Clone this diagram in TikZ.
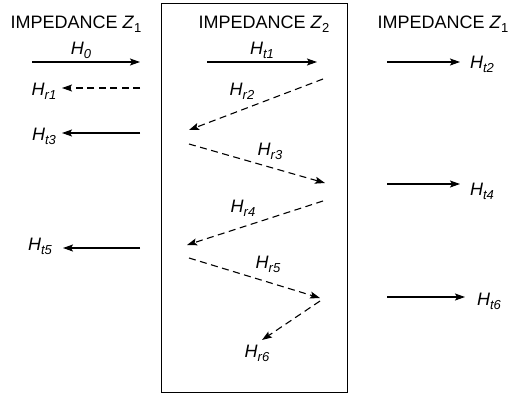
\documentclass[tikz,border=0pt]{standalone}
\usepackage{fontspec}
\setmainfont{Liberation Sans}
\usetikzlibrary{arrows.meta}
\newcommand{\lowsub}[1]{\raisebox{-4pt}{\fontsize{13}{13}\selectfont #1}}
\newcommand{\Hfield}[1]{\textit{H}\lowsub{\textit{#1}}}

\begin{document}
\begin{tikzpicture}[x=1pt, y=-1pt, line width=1.1pt,
    every node/.style={font=\fontsize{18}{22}\selectfont, inner sep=0pt, anchor=base},
    wave/.style={-{Stealth[length=10pt,width=7pt,inset=2pt]}},
    refl/.style={wave, dash pattern=on 7pt off 4.5pt}]
  \useasboundingbox (0,0) rectangle (508,394);
  % middle layer
  \node[draw, line width=1pt, minimum width=186pt, minimum height=389pt, anchor=center] (layer) at (254,197.5) {};
  \node (zl) at (76,28) {IMPEDANCE \textit{Z}\lowsub{1}};
  \node (zm) at (264,28) {IMPEDANCE \textit{Z}\lowsub{2}};
  \node (zr) at (443,28) {IMPEDANCE \textit{Z}\lowsub{1}};
  % labels
  \node (h0)  at (81,54)   {\Hfield{0}};
  \node (hr1) at (44,95)   {\Hfield{r1}};
  \node (ht3) at (44,140)  {\Hfield{t3}};
  \node (ht5) at (40,250)  {\Hfield{t5}};
  \node (ht1) at (262,54)  {\Hfield{t1}};
  \node (hr2) at (242,95)  {\Hfield{r2}};
  \node (hr3) at (270,155) {\Hfield{r3}};
  \node (hr4) at (243,212) {\Hfield{r4}};
  \node (hr5) at (268,268) {\Hfield{r5}};
  \node (hr6) at (257,357) {\Hfield{r6}};
  \node (ht2) at (482,68)  {\Hfield{t2}};
  \node (ht4) at (482,195) {\Hfield{t4}};
  \node (ht6) at (489,305) {\Hfield{t6}};
  % arrow ends
  \coordinate (a0) at (32,62);   \coordinate (b0) at (140,62);
  \coordinate (a1) at (140,88);  \coordinate (b1) at (62,88);
  \coordinate (a3) at (140,133); \coordinate (b3) at (62,133);
  \coordinate (a5) at (140,248); \coordinate (b5) at (63,248);
  \coordinate (m1) at (207,62);  \coordinate (n1) at (317,62);
  \coordinate (m2) at (323,79);  \coordinate (n2) at (189,130);
  \coordinate (m3) at (189,144); \coordinate (n3) at (325,183);
  \coordinate (m4) at (323,201); \coordinate (n4) at (187,245);
  \coordinate (m5) at (189,258); \coordinate (n5) at (320,298);
  \coordinate (m6) at (320,301); \coordinate (n6) at (262,340);
  \coordinate (c2) at (387,62);  \coordinate (d2) at (460,62);
  \coordinate (c4) at (387,184); \coordinate (d4) at (460,184);
  \coordinate (c6) at (387,297); \coordinate (d6) at (465,297);
  \foreach \a/\b in {a0/b0,a3/b3,a5/b5,m1/n1,c2/d2,c4/d4,c6/d6}
    \draw[wave] (\a) -- (\b);
  \foreach \a/\b in {a1/b1,m2/n2,m3/n3,m4/n4,m5/n5,m6/n6}
    \draw[refl] (\a) -- (\b);
\end{tikzpicture}
\end{document}
